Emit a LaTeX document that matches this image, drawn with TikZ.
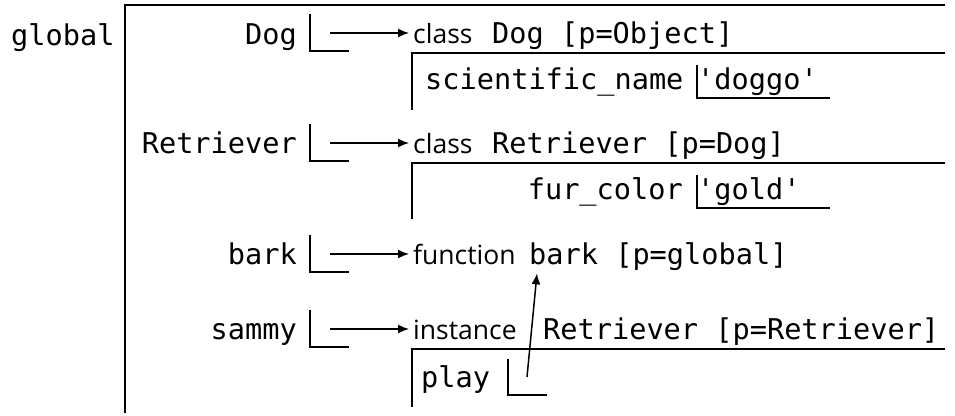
\documentclass[tikz,border=0pt]{standalone}
\usepackage{fontspec}
\usetikzlibrary{arrows.meta}
\newfontfamily\monofam{DejaVu Sans Mono}
\newfontfamily\kindfam{Open Sans}
\tikzset{
  mono/.style={font=\monofam\fontsize{28.6}{30}\selectfont, inner sep=0pt},
  kind/.style={font=\kindfam\fontsize{26.5}{28}\selectfont, inner sep=0pt},
  frame/.style={line width=1.8pt},
  ptr/.style={-{Latex[length=11pt,width=9pt]}, line width=1.5pt, shorten >=4pt},
}
\begin{document}
\begin{tikzpicture}[x=1pt, y=-1pt]
\useasboundingbox (0,0) rectangle (955,415);

% global frame
\node[mono, anchor=base west] (global) at (11,45) {global};
\draw[frame] (945,5) -- (125,5) -- (125,413);

% slot corners (bottom-left of each binding box)
\coordinate (dogslot)  at (310,51);
\coordinate (retslot)  at (310,161);
\coordinate (barkslot) at (310,272);
\coordinate (samslot)  at (310,347);
\coordinate (playslot) at (508,395);
\coordinate (scislot)  at (697,98);
\coordinate (furslot)  at (697,208);

% arrow sources inside the slots
\coordinate (dogsrc)  at (330,33);
\coordinate (retsrc)  at (330,143);
\coordinate (barksrc) at (330,254);
\coordinate (samsrc)  at (330,329);
\coordinate (playsrc) at (527,377);

% names bound in the global frame
\node[mono, anchor=base east] (dogname)  at (297,44)  {Dog};
\node[mono, anchor=base east] (retname)  at (297,153) {Retriever};
\node[mono, anchor=base east] (barkname) at (297,264) {bark};
\node[mono, anchor=base east] (samname)  at (297,339) {sammy};

\foreach \s in {dogslot,retslot,barkslot,samslot}
  \draw[frame] (\s) ++(0,-37) -- (\s) -- ++(39,0);

% object headers
\node[kind, anchor=base west] (dogkind)  at (413,43)  {class};
\node[mono, anchor=base west] (dogtitle) at (492,43)  {Dog [p=Object]};
\node[kind, anchor=base west] (retkind)  at (413,153) {class};
\node[mono, anchor=base west] (rettitle) at (492,153) {Retriever [p=Dog]};
\node[kind, anchor=base west] (barkkind) at (413,264) {function};
\node[mono, anchor=base west] (barktitle) at (529,264) {bark [p=global]};
\node[kind, anchor=base west] (samkind)  at (413,339) {instance};
\node[mono, anchor=base west] (samtitle) at (543,339) {Retriever [p=Retriever]};

% object frames
\draw[frame] (945,53)  -- (412,53)  -- (412,110);
\draw[frame] (945,163) -- (412,163) -- (412,219);
\draw[frame] (945,349) -- (412,349) -- (412,407);

% attributes
\node[mono, anchor=base west] (sciname) at (425,89)  {scientific\_name};
\node[mono, anchor=base west] (scival)  at (697,89)  {'doggo'};
\draw[frame] (scislot) ++(0,-33) -- (scislot) -- ++(133,0);

\node[mono, anchor=base east] (furname) at (683,199) {fur\_color};
\node[mono, anchor=base west] (furval)  at (697,199) {'gold'};
\draw[frame] (furslot) ++(0,-33) -- (furslot) -- ++(133,0);

\node[mono, anchor=base west] (playname) at (421,387) {play};
\draw[frame] (playslot) ++(0,-36) -- (playslot) -- ++(39,0);

% pointers
\draw[ptr] (dogsrc)  -- (dogsrc -| dogkind.west);
\draw[ptr] (retsrc)  -- (retsrc -| retkind.west);
\draw[ptr] (barksrc) -- (barksrc -| barkkind.west);
\draw[ptr] (samsrc)  -- (samsrc -| samkind.west);
\draw[ptr, shorten >=0pt] (playsrc) -- ([xshift=8pt,yshift=-3pt]barktitle.south west);
\end{tikzpicture}
\end{document}
